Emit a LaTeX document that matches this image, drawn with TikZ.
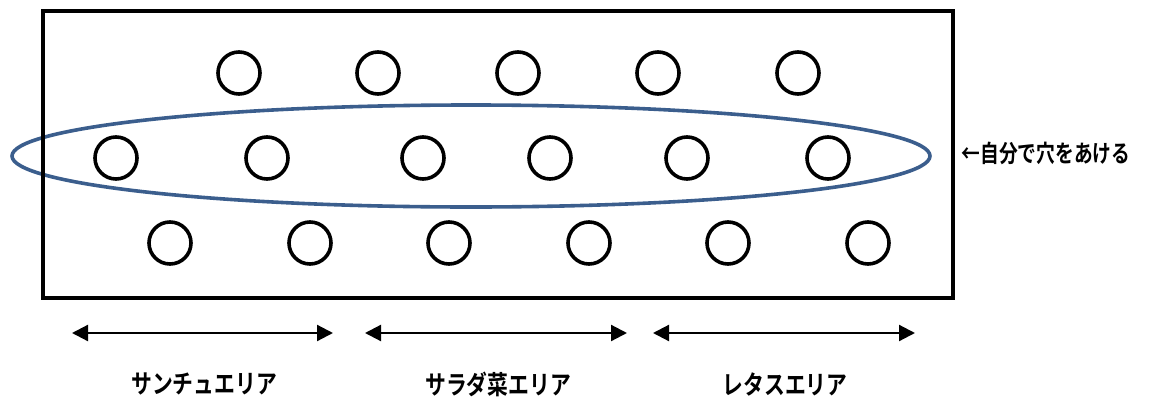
\documentclass[tikz,border=0pt]{standalone}
\usepackage{fontspec}
\newfontfamily\jp{Noto Sans CJK JP Bold}
\usetikzlibrary{arrows.meta,shapes.geometric}
\definecolor{ellblue}{RGB}{59,94,141}
\begin{document}
\begin{tikzpicture}[x=1pt,y=-1pt,
  hole/.style={circle,draw=black,line width=3.6pt,minimum size=42pt,inner sep=0pt},
  lbl/.style={font=\jp\fontsize{26}{30}\selectfont,xscale=0.8,inner sep=0pt},
  span/.style={line width=2.2pt,{Triangle[length=16pt,width=16pt]}-{Triangle[length=16pt,width=16pt]}}]
\useasboundingbox (0,0) rectangle (1149,399);
% ellipse
\node[ellipse,draw=ellblue,line width=3.6pt,minimum width=918pt,minimum height=102pt,inner sep=0pt] (ell) at (471,156) {};
% frame
\node[rectangle,draw=black,line width=4.5pt,minimum width=910pt,minimum height=287pt,inner sep=0pt] (frame) at (498,154.5) {};
% holes top row
\foreach \x [count=\i] in {239,378,518,658,798}
  \node[hole] (t\i) at (\x,73) {};
% middle row
\foreach \x [count=\i] in {116,267,423,550,687,828}
  \node[hole] (m\i) at (\x,158) {};
% bottom row
\foreach \x [count=\i] in {170,310,449,589,728,868}
  \node[hole] (b\i) at (\x,243) {};
% side note
\node[lbl,font=\jp\fontsize{24}{28}\selectfont,xscale=0.78/0.8] (note) at (1046,153) {←自分で穴をあける};
% spans
\coordinate (a1) at (72,333); \coordinate (a2) at (333,333);
\coordinate (c1) at (365,333); \coordinate (c2) at (627,333);
\coordinate (d1) at (653,333); \coordinate (d2) at (915,333);
\draw[span] (a1) -- (a2);
\draw[span] (c1) -- (c2);
\draw[span] (d1) -- (d2);
% labels
\node[lbl] (l1) at (204,384) {サンチュエリア};
\node[lbl] (l2) at (498,384) {サラダ菜エリア};
\node[lbl] (l3) at (785,384) {レタスエリア};
\end{tikzpicture}
\end{document}
